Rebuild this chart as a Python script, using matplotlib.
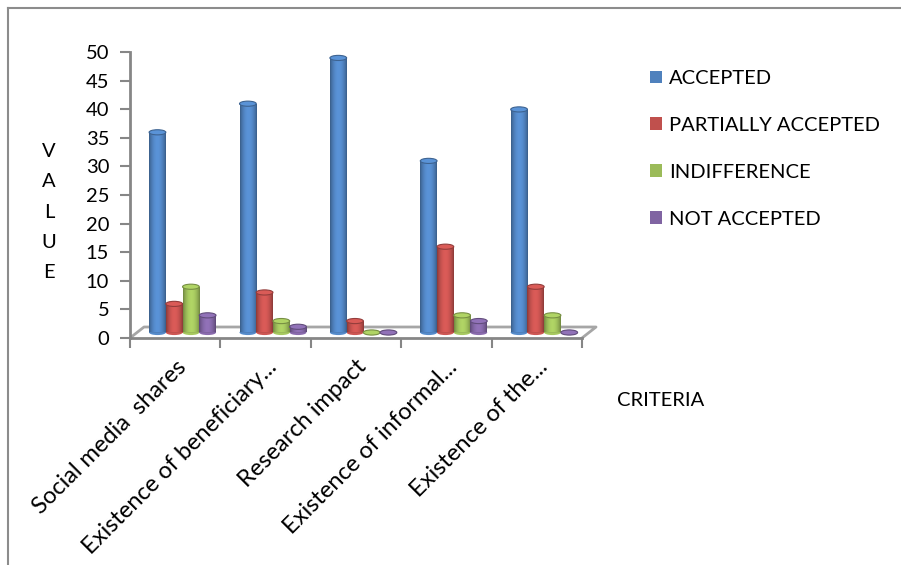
import numpy as np
import matplotlib
matplotlib.use("Agg")
import matplotlib.pyplot as plt
from matplotlib import transforms
from matplotlib.patches import Ellipse, Patch
from matplotlib.lines import Line2D
import matplotlib.colors as mcolors

# data
categories = ["Social media  shares", "Existence of beneficiary...", "Research impact",
              "Existence of informal...", "Existence of the..."]
series = ["ACCEPTED", "PARTIALLY ACCEPTED", "INDIFFERENCE", "NOT ACCEPTED"]
accepted = [35, 40, 48, 30, 39]
partially = [5, 7, 2, 15, 8]
indifference = [8, 2, 0, 3, 3]
not_accepted = [3, 1, 0, 2, 0]
yticks = list(range(0, 55, 5))

colors = ["#4F81BD", "#C0504D", "#9BBB59", "#8064A2"]
values = [accepted, partially, indifference, not_accepted]

plt.rcParams['font.family'] = ['Lato', 'DejaVu Sans']
W, H = 901, 565
fig = plt.figure(figsize=(W / 100, H / 100), dpi=100)
ax = fig.add_axes([130 / W, (H - 338) / H, (582 - 130) / W, (338 - 52) / H])
ax.set_xlim(0, 5)
ax.set_ylim(0, 50)

# bars sit in the middle depth of the 3D floor
trans = transforms.offset_copy(ax.transData, fig, x=6, y=5.5, units='dots')

bw = 0.185
start = 0.145
cap_h = 0.9


def shade(c, t):
    rgb = np.array(mcolors.to_rgb(c))
    f = 0.72 + 0.42 * np.sin(np.pi * t) ** 0.8
    return np.clip(rgb * f, 0, 1)


for s, (vals, c) in enumerate(zip(values, colors)):
    xs = np.arange(5) + start + s * bw
    bars = ax.bar(xs, vals, width=bw, align='edge', color=c, linewidth=0,
                  transform=trans, zorder=3)
    t = np.linspace(0, 1, 40)
    grad = np.array([shade(c, tt) for tt in t])[None, :, :]
    for x0, v, b in zip(xs, vals, bars):
        base = Ellipse((x0 + bw / 2, 0), bw, cap_h, facecolor=shade(c, 0.3),
                       edgecolor='none', transform=trans, zorder=2, clip_on=False)
        ax.add_patch(base)
        if v > 0:
            im = ax.imshow(grad, extent=(x0, x0 + bw, 0, v), aspect='auto',
                           interpolation='bilinear', transform=trans, zorder=3.5)
            im.set_clip_path(b)
        top = Ellipse((x0 + bw / 2, v), bw, cap_h, facecolor=shade(c, 0.45),
                      edgecolor=shade(c, 0.02), linewidth=0.8,
                      transform=trans, zorder=4, clip_on=False)
        ax.add_patch(top)

ax.set_xlim(0, 5)
ax.set_ylim(0, 50)

# floor outline
fl = dict(color='#A6A6A6', lw=2, clip_on=False, zorder=1)
dx, dy = 14 / 90.4, 11 / 5.72
ax.plot([0, dx, 5 + dx, 5], [0, dy, dy, 0], **fl)

for sp in ['top', 'right']:
    ax.spines[sp].set_visible(False)
for sp in ['left', 'bottom']:
    ax.spines[sp].set_color('#868686')
    ax.spines[sp].set_linewidth(2)
ax.set_yticks(yticks)
ax.set_yticklabels([str(v) for v in yticks], fontsize=14.5)
ax.tick_params(axis='y', length=7, width=1.5, color='#868686', pad=8)
ax.set_xticks(range(6))
ax.set_xticklabels([])
ax.tick_params(axis='x', which='major', length=7, width=1.5, color='#868686')
ax.set_xticks(np.arange(5) + 0.5, minor=True)
ax.set_xticklabels(categories, minor=True, rotation=45, ha='right',
                   rotation_mode='anchor', fontsize=17)
ax.tick_params(axis='x', which='minor', length=0, pad=13)
ax.patch.set_alpha(0)

fig.text(49 / W, 1 - 212 / H, "V\nA\nL\nU\nE", ha='center', va='center',
         fontsize=14.5, linespacing=1.95)
fig.text(617 / W, 1 - 400 / H, "CRITERIA", ha='left', va='center', fontsize=14.5)

handles = [Patch(facecolor=c) for c in colors]
fig.legend(handles, series, loc='upper left', bbox_to_anchor=(632 / W, 1 - 52 / H),
           frameon=False, fontsize=14.5, labelspacing=1.48, handlelength=0.6,
           handleheight=0.6, handletextpad=0.35)

# chart border (top and left visible)
fig.add_artist(Line2D([8 / W, 8 / W], [0, 1 - 8 / H], transform=fig.transFigure,
                      color='#8C8C8C', lw=1.5))
fig.add_artist(Line2D([8 / W, 1], [1 - 8 / H, 1 - 8 / H], transform=fig.transFigure,
                      color='#8C8C8C', lw=1.5))

fig.savefig("out.png", dpi=100)
